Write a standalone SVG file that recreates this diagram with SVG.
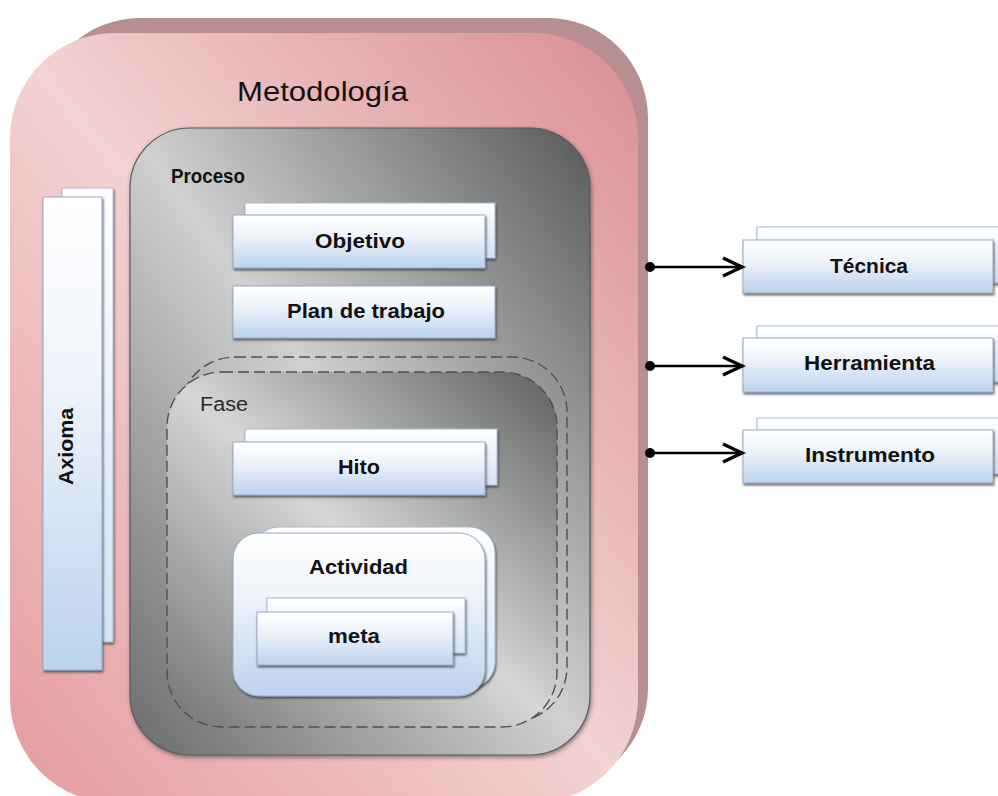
<svg xmlns="http://www.w3.org/2000/svg" width="998" height="796" viewBox="0 0 998 796">
  <defs>
    <!-- saddle-like shading: light on the main diagonal, darker toward top-right and bottom-left -->
    <linearGradient id="pinkFace" x1="1" y1="0" x2="0" y2="1">
      <stop offset="0" stop-color="#d98e91"/>
      <stop offset="0.5" stop-color="#f4d2d2"/>
      <stop offset="1" stop-color="#e49b9d"/>
    </linearGradient>
    <linearGradient id="grayFace" x1="1" y1="0" x2="0" y2="1">
      <stop offset="0" stop-color="#585a5a"/>
      <stop offset="0.5" stop-color="#d0d0d0"/>
      <stop offset="1" stop-color="#6a6c6c"/>
    </linearGradient>
    <linearGradient id="phaseFace" x1="1" y1="0" x2="0" y2="1">
      <stop offset="0" stop-color="#5e6060"/>
      <stop offset="0.5" stop-color="#d6d6d6"/>
      <stop offset="1" stop-color="#727474"/>
    </linearGradient>
    <linearGradient id="boxFront" x1="0" y1="0" x2="0" y2="1">
      <stop offset="0" stop-color="#ffffff"/>
      <stop offset="0.4" stop-color="#eef3fa"/>
      <stop offset="1" stop-color="#bcd2ee"/>
    </linearGradient>
    <linearGradient id="boxBack" x1="0" y1="0" x2="0" y2="1">
      <stop offset="0" stop-color="#ffffff"/>
      <stop offset="1" stop-color="#d3e2f4"/>
    </linearGradient>
    <filter id="shadow" x="-10%" y="-10%" width="125%" height="140%">
      <feDropShadow dx="1" dy="2" stdDeviation="1" flood-color="#3a3a3a" flood-opacity="0.75"/>
    </filter>
    <filter id="softShadow" x="-10%" y="-10%" width="125%" height="125%">
      <feDropShadow dx="1" dy="2" stdDeviation="2" flood-color="#333" flood-opacity="0.55"/>
    </filter>
    <marker id="dot" viewBox="-6 -6 12 12" markerWidth="12" markerHeight="12" refX="0" refY="0" markerUnits="userSpaceOnUse">
      <circle r="5" fill="#000"/>
    </marker>
    <marker id="chevron" viewBox="-24 -12 28 24" markerWidth="28" markerHeight="24" refX="0" refY="0" markerUnits="userSpaceOnUse" orient="auto">
      <path d="M-20,-9 L-1,0 L-20,9" fill="none" stroke="#000" stroke-width="3.4" stroke-linejoin="miter"/>
    </marker>
    <style>
      .lbl { font-family: "Liberation Sans", Arial, sans-serif; font-weight: bold; font-size: 20px; fill: #111; text-anchor: middle; }
      .title { font-family: "Liberation Sans", Arial, sans-serif; font-size: 27px; fill: #111; }
      .plain { font-family: "Liberation Sans", Arial, sans-serif; font-size: 20px; fill: #2a2a2a; }
      .bx { fill: url(#boxFront); stroke: #94abc8; stroke-width: 1; filter: url(#shadow); }
      .bxb { fill: url(#boxBack); stroke: #a7bbd5; stroke-width: 1; filter: url(#shadow); }
      .dash { fill: none; stroke: #4f4f4f; stroke-width: 1.4; stroke-dasharray: 11 5; }
      .link { stroke: #000; stroke-width: 2.4; fill: none; marker-start: url(#dot); marker-end: url(#chevron); }
    </style>
  </defs>

  <rect width="998" height="796" fill="#ffffff"/>

  <!-- Metodologia: outer container with raised back edge -->
  <g id="metodologia">
    <rect x="40" y="18" width="608" height="770" rx="100" ry="100" fill="#b78f91"/>
    <rect x="10" y="33" width="628" height="770" rx="105" ry="105" fill="url(#pinkFace)"/>
    <text class="title" x="237" y="101" textLength="171" lengthAdjust="spacingAndGlyphs">Metodología</text>
  </g>

  <!-- Axioma: tall stacked card -->
  <g id="axioma">
    <rect class="bxb" x="62" y="188" width="51" height="454"/>
    <rect class="bx" x="43" y="197" width="59" height="473"/>
    <text class="lbl" transform="translate(73,446.5) rotate(-90)" x="0" y="0" textLength="77" lengthAdjust="spacingAndGlyphs">Axioma</text>
  </g>

  <!-- Proceso -->
  <g id="proceso">
    <rect x="130" y="128" width="460" height="627" rx="60" ry="60" fill="url(#grayFace)" stroke="#5a5a5a" stroke-width="1.2" filter="url(#softShadow)"/>
    <text class="lbl" x="208" y="183" textLength="74" lengthAdjust="spacingAndGlyphs">Proceso</text>
  </g>

  <g id="objetivo">
    <rect class="bxb" x="245" y="203" width="250" height="55"/>
    <rect class="bx" x="233" y="215" width="252" height="53"/>
    <text class="lbl" x="360" y="248" textLength="90" lengthAdjust="spacingAndGlyphs">Objetivo</text>
  </g>

  <g id="plan">
    <rect class="bx" x="233" y="286" width="262" height="52"/>
    <text class="lbl" x="366" y="318" textLength="158" lengthAdjust="spacingAndGlyphs">Plan de trabajo</text>
  </g>

  <!-- Fase: dashed stacked container -->
  <g id="fase">
    <rect class="dash" x="180" y="357" width="387" height="365" rx="55" ry="55"/>
    <rect x="167" y="372" width="390" height="355" rx="55" ry="55" fill="url(#phaseFace)"/>
    <rect class="dash" x="167" y="372" width="390" height="355" rx="55" ry="55"/>
    <text class="plain" x="200" y="411" textLength="48" lengthAdjust="spacingAndGlyphs">Fase</text>
  </g>

  <g id="hito">
    <rect class="bxb" x="245" y="429" width="252" height="56"/>
    <rect class="bx" x="233" y="442" width="252" height="53"/>
    <text class="lbl" x="359" y="474" textLength="42" lengthAdjust="spacingAndGlyphs">Hito</text>
  </g>

  <g id="actividad">
    <rect class="bxb" x="253" y="527" width="242" height="161" rx="26" ry="26"/>
    <rect class="bx" x="233" y="533" width="252" height="163" rx="26" ry="26"/>
    <text class="lbl" x="358.5" y="574" textLength="99" lengthAdjust="spacingAndGlyphs">Actividad</text>
  </g>

  <g id="meta">
    <rect class="bxb" x="267" y="598" width="198" height="55"/>
    <rect class="bx" x="257" y="612" width="196" height="53"/>
    <text class="lbl" x="354" y="643" textLength="52" lengthAdjust="spacingAndGlyphs">meta</text>
  </g>

  <!-- external cards -->
  <g id="tecnica">
    <rect class="bxb" x="757" y="227" width="245" height="56"/>
    <rect class="bx" x="743" y="240" width="250" height="53"/>
    <text class="lbl" x="869" y="273" textLength="78" lengthAdjust="spacingAndGlyphs">Técnica</text>
  </g>

  <g id="herramienta">
    <rect class="bxb" x="757" y="326" width="245" height="56"/>
    <rect class="bx" x="743" y="338" width="250" height="54"/>
    <text class="lbl" x="869.5" y="370" textLength="131" lengthAdjust="spacingAndGlyphs">Herramienta</text>
  </g>

  <g id="instrumento">
    <rect class="bxb" x="757" y="418" width="245" height="56"/>
    <rect class="bx" x="743" y="430" width="250" height="53"/>
    <text class="lbl" x="870" y="462" textLength="130" lengthAdjust="spacingAndGlyphs">Instrumento</text>
  </g>

  <!-- connectors -->
  <g id="connectors">
    <path class="link" d="M650,267 L743,267"/>
    <path class="link" d="M650,366 L743,366"/>
    <path class="link" d="M650,453 L743,453"/>
  </g>
</svg>
